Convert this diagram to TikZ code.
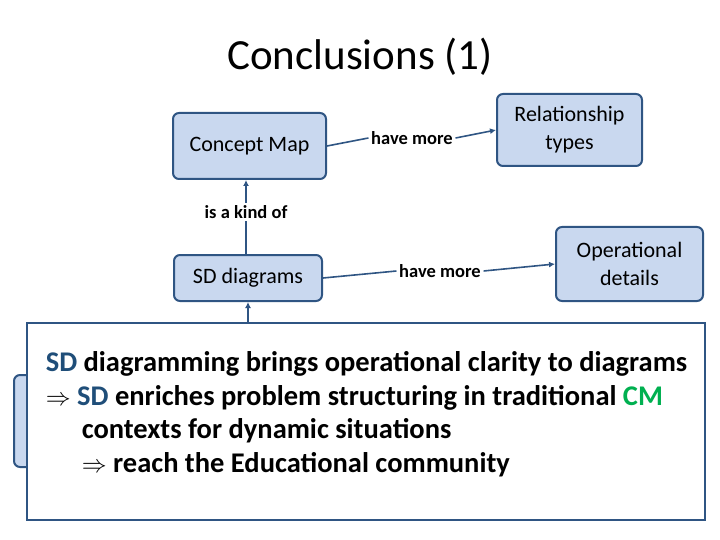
\documentclass[tikz,border=0pt]{standalone}
\usepackage{fontspec}
\setmainfont{Carlito}
\usepackage{xcolor}
\usetikzlibrary{positioning}
\usetikzlibrary{arrows.meta}
\definecolor{boxfill}{HTML}{C9D8EF}
\definecolor{boxline}{HTML}{2F5583}
\definecolor{sdblue}{HTML}{1F4E79}
\definecolor{cmgreen}{HTML}{00B050}

\begin{document}
\begin{tikzpicture}[x=1pt, y=-1pt, ->, >={Latex[length=6pt,width=6pt]}, draw=boxline, line width=1.6pt, font=\fontsize{22}{28}\selectfont]
\tikzstyle{block}=[draw=boxline, fill=boxfill, rectangle, rounded corners=6pt, line width=2pt, align=center, inner sep=0pt]
\tikzstyle{lbl}=[font=\bfseries\fontsize{18.5}{22}\selectfont, inner sep=2pt]

\useasboundingbox (0,0) rectangle (720,540);
\node at (360,57) {\fontsize{43}{50}\selectfont Conclusions (1)};

\node[block, minimum width=153pt, minimum height=66pt] (cm) at (249.5,146) {Concept Map};
\node[block, minimum width=145pt, minimum height=72pt] (rel) at (569.5,130) {Relationship\\types};
\node[block, minimum width=148pt, minimum height=46pt] (sd) at (248,278) {SD diagrams};
\node[block, minimum width=147pt, minimum height=74pt] (op) at (629.5,264) {Operational\\details};
\node[block, minimum width=60pt, minimum height=92pt] (hid) at (44,421) {};

\node[lbl] (l1) at (412,138) {have more};
\node[lbl] (l2) at (440,271) {have more};
\node[lbl] (l3) at (246,212) {is a kind of};

\draw[-] (cm.east) -- (l1.west);
\draw (l1.east) -- (rel.west);
\draw[-] (sd.east) -- (l2.west);
\draw (l2.east) -- (op.west);
\draw[-] (sd.north -| l3) -- (l3.south);
\draw (l3.north) -- (cm.south -| l3);

\node[draw=boxline, fill=white, line width=2pt, minimum width=678pt, minimum height=197pt, inner sep=0pt] (concl) at (366,421.5) {};
\draw (concl.north -| sd) -- (sd.south);

\node[anchor=north west, align=left, font=\bfseries\fontsize{28.5}{33.5}\selectfont, inner sep=0pt] (txt) at (45,351) {%
\textcolor{sdblue}{SD} diagramming brings operational clarity to diagrams\\
$\Rightarrow$ \textcolor{sdblue}{SD} enriches problem structuring in traditional \textcolor{cmgreen}{CM}\\
\hspace*{36pt}contexts for dynamic situations\\
\hspace*{36pt}$\Rightarrow$ reach the Educational community};
\end{tikzpicture}
\end{document}
